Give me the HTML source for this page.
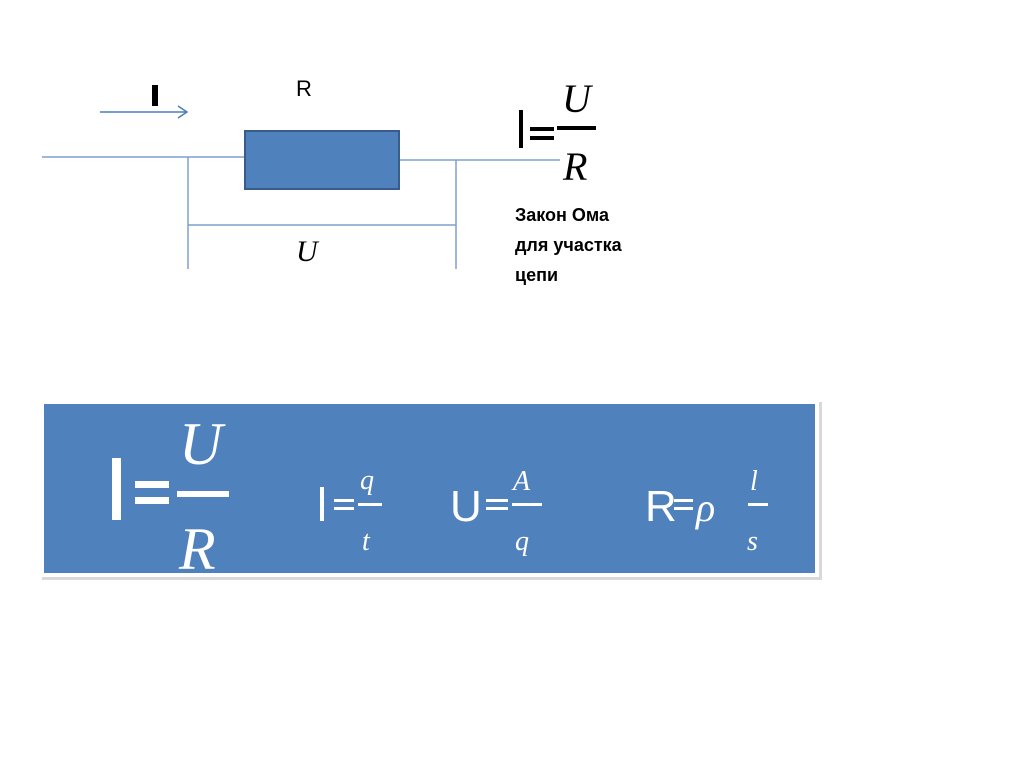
<!DOCTYPE html>
<html><head><meta charset="utf-8"><style>
html,body{margin:0;padding:0;background:#fff;}
svg{display:block;}
.m{font-family:"Liberation Serif",serif;font-style:italic;}
.s{font-family:"Liberation Sans","DejaVu Sans",sans-serif;}
</style></head><body>
<svg width="1024" height="767" viewBox="0 0 1024 767" xmlns="http://www.w3.org/2000/svg">
<rect x="0" y="0" width="1024" height="767" fill="#fff"/>
<rect x="152" y="85" width="6" height="21" fill="#000"/>
<line x1="100" y1="112" x2="186" y2="112" stroke="#4a7ebb" stroke-width="1.5"/>
<polyline points="178,106 187,112 178,118" fill="none" stroke="#4a7ebb" stroke-width="1.5"/>
<text x="296" y="96" class="s" font-size="22" fill="#000">R</text>
<line x1="42" y1="157" x2="245" y2="157" stroke="#7fa0cc" stroke-width="1.5"/>
<line x1="399" y1="160" x2="560" y2="160" stroke="#7fa0cc" stroke-width="1.5"/>
<rect x="245" y="131" width="154" height="58" fill="#4f81bd" stroke="#385d8a" stroke-width="2"/>
<line x1="188" y1="157" x2="188" y2="269" stroke="#7fa0cc" stroke-width="1.5"/>
<line x1="456" y1="160" x2="456" y2="269" stroke="#7fa0cc" stroke-width="1.5"/>
<line x1="188" y1="225" x2="456" y2="225" stroke="#7fa0cc" stroke-width="1.5"/>
<text x="296" y="261" class="m" font-size="30" fill="#000">U</text>
<rect x="519" y="110" width="4" height="38" fill="#000"/>
<rect x="530" y="127" width="24" height="4" fill="#000"/>
<rect x="530" y="136" width="24" height="4" fill="#000"/>
<rect x="557" y="126" width="39" height="4" fill="#000"/>
<text x="562" y="112" class="m" font-size="40" fill="#000">U</text>
<text x="563" y="180" class="m" font-size="40" fill="#000">R</text>
<text class="s" font-size="18" font-weight="bold" fill="#000"><tspan x="515" y="221">Закон Ома</tspan><tspan x="515" y="251">для участка</tspan><tspan x="515" y="281">цепи</tspan></text>
<rect x="42" y="402" width="780" height="178" fill="#d9d9d9"/>
<rect x="39" y="399" width="780" height="178" fill="#fff"/>
<rect x="44" y="404" width="771" height="169" fill="#4f81bd"/>
<g fill="#fff">
<rect x="112" y="458" width="9" height="62"/>
<rect x="135" y="481" width="34" height="7"/>
<rect x="135" y="497" width="34" height="7"/>
<rect x="177" y="491" width="52" height="6"/>
<text x="179" y="464" class="m" font-size="60">U</text>
<text x="179" y="569" class="m" font-size="60">R</text>
<rect x="320" y="487" width="4" height="34"/>
<rect x="334" y="499" width="20" height="3"/>
<rect x="334" y="507" width="20" height="3"/>
<rect x="358" y="503" width="24" height="3"/>
<text x="360" y="489" class="m" font-size="28">q</text>
<text x="362" y="550" class="m" font-size="28">t</text>
<text x="450" y="521" class="s" font-size="44">U</text>
<rect x="486" y="499" width="22" height="3"/>
<rect x="486" y="507" width="22" height="3"/>
<rect x="512" y="503" width="30" height="3"/>
<text x="513" y="490" class="m" font-size="28">A</text>
<text x="515" y="550" class="m" font-size="28">q</text>
<text x="645" y="521" class="s" font-size="44">R</text>
<rect x="674" y="499" width="19" height="3"/>
<rect x="674" y="507" width="19" height="3"/>
<text x="696" y="521" class="m" font-size="40">ρ</text>
<rect x="748" y="503" width="20" height="3"/>
<text x="750" y="490" class="m" font-size="28">l</text>
<text x="747" y="550" class="m" font-size="28">s</text>
</g>
</svg>
</body></html>
